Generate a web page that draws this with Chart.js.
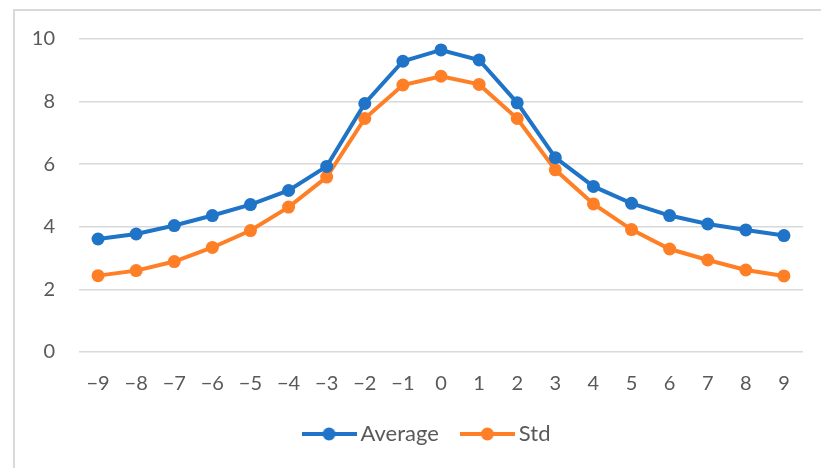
<!DOCTYPE html>
<html>
<head>
<meta charset="utf-8">
<script src="https://cdn.jsdelivr.net/npm/chart.js@4/dist/chart.umd.min.js"></script>
<style>
  html, body { margin: 0; padding: 0; background: #ffffff; }
  #wrap { position: relative; width: 821px; height: 468px; }
</style>
</head>
<body>
<div id="wrap"><canvas id="chart" width="821" height="468"></canvas></div>
<script>
// Offsets from the centre and the two measured series
const categories = ['\u22129', '\u22128', '\u22127', '\u22126', '\u22125', '\u22124', '\u22123', '\u22122', '\u22121',
  '0', '1', '2', '3', '4', '5', '6', '7', '8', '9'];
const averageValues = [3.61, 3.77, 4.04, 4.36, 4.71, 5.16, 5.93, 7.94, 9.29, 9.65, 9.33, 7.96, 6.21, 5.29, 4.75, 4.36, 4.09, 3.90, 3.72];
const stdValues = [2.44, 2.60, 2.89, 3.34, 3.88, 4.63, 5.59, 7.46, 8.53, 8.81, 8.55, 7.46, 5.82, 4.73, 3.91, 3.29, 2.94, 2.62, 2.43];
const seriesNames = ['Average', 'Std'];
const yTicks = [0, 2, 4, 6, 8, 10];

const BLUE = '#1F74C8';
const ORANGE = '#FF7F27';
const TEXT = '#595959';
const GRID = '#d9d9d9';
const FONT = 'Lato, "Open Sans", sans-serif';

// Legend marker: a short line with a dot in the middle
function legendMarker(color) {
  const c = document.createElement('canvas');
  c.width = 55; c.height = 16;
  const g = c.getContext('2d');
  g.strokeStyle = color;
  g.lineWidth = 4;
  g.lineCap = 'butt';
  g.beginPath();
  g.moveTo(0, 8); g.lineTo(55, 8);
  g.stroke();
  g.fillStyle = color;
  g.beginPath();
  g.arc(27.5, 8, 6.5, 0, Math.PI * 2);
  g.fill();
  return c;
}
const markers = [legendMarker(BLUE), legendMarker(ORANGE)];

// Light frame around the plot, and the legend nudged to its place under the axis
const framePlugin = {
  id: 'frame',
  afterLayout(chart) {
    const lg = chart.legend;
    if (lg) { lg.left += 28; lg.right += 28; }
  },
  beforeDraw(chart) {
    const ctx = chart.ctx;
    ctx.save();
    ctx.strokeStyle = GRID;
    ctx.lineWidth = 2;
    ctx.strokeRect(14, 10, chart.width + 20, chart.height + 20);
    ctx.restore();
  }
};

new Chart(document.getElementById('chart'), {
  type: 'line',
  data: {
    labels: categories,
    datasets: [
      {
        label: seriesNames[0],
        data: averageValues,
        borderColor: BLUE,
        backgroundColor: BLUE,
        borderWidth: 4,
        pointRadius: 6.5,
        pointBorderWidth: 0,
        pointBackgroundColor: BLUE,
        tension: 0
      },
      {
        label: seriesNames[1],
        data: stdValues,
        borderColor: ORANGE,
        backgroundColor: ORANGE,
        borderWidth: 4,
        pointRadius: 6.5,
        pointBorderWidth: 0,
        pointBackgroundColor: ORANGE,
        tension: 0
      }
    ]
  },
  options: {
    responsive: false,
    animation: false,
    devicePixelRatio: 1,
    layout: { padding: { left: 0, right: 18, top: 39, bottom: 13 } },
    scales: {
      x: {
        offset: true,
        grid: { display: false, drawTicks: false },
        border: { display: false },
        ticks: { color: TEXT, font: { family: FONT, size: 20 }, padding: 20, maxRotation: 0, autoSkip: false },
        afterFit(scale) { scale.height = 43; }
      },
      y: {
        min: 0,
        max: 10,
        afterBuildTicks(scale) { scale.ticks = yTicks.map(v => ({ value: v })); },
        grid: { color: GRID, lineWidth: 1.5, drawTicks: false },
        border: { display: false },
        ticks: { color: TEXT, font: { family: FONT, size: 20 }, padding: 24 },
        afterFit(scale) { scale.width = 79; }
      }
    },
    plugins: {
      tooltip: { enabled: false },
      legend: {
        position: 'bottom',
        labels: {
          color: TEXT,
          font: { family: FONT, size: 22 },
          usePointStyle: true,
          pointStyleWidth: 41,
          padding: 28,
          generateLabels(chart) {
            const items = Chart.defaults.plugins.legend.labels.generateLabels(chart);
            items.forEach((it, i) => { it.pointStyle = markers[i]; });
            return items;
          }
        }
      }
    }
  },
  plugins: [framePlugin]
});
</script>
</body>
</html>
